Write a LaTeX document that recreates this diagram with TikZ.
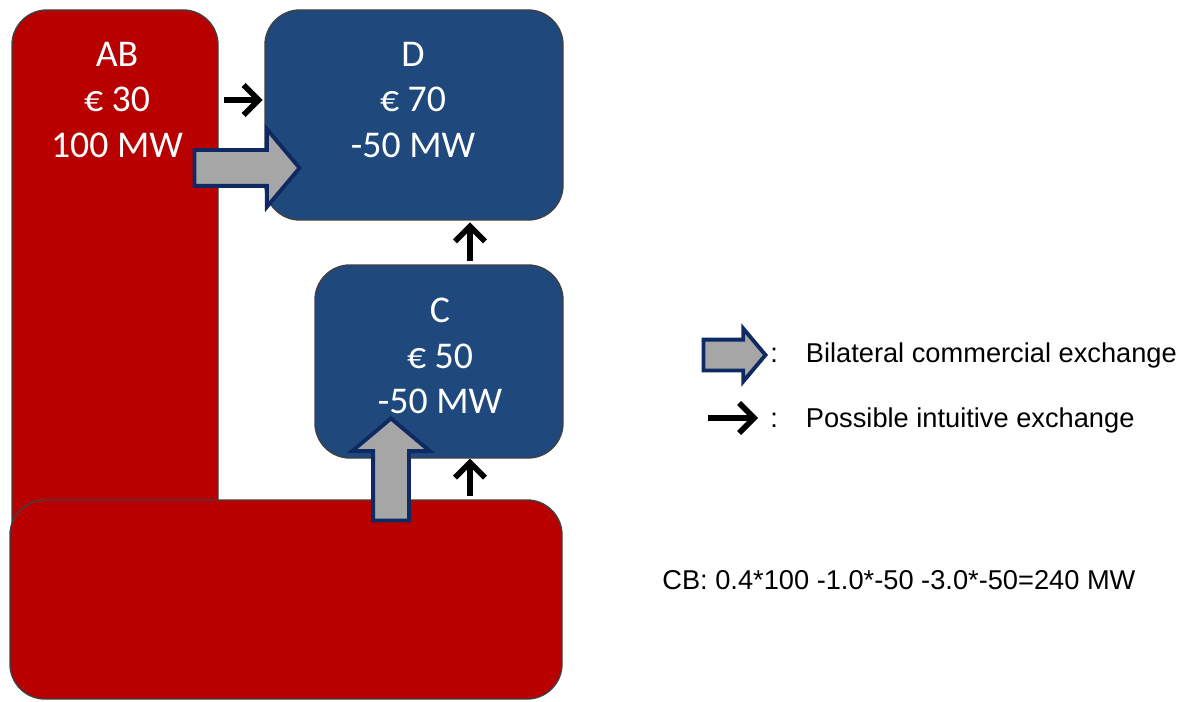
\documentclass[tikz,border=0pt]{standalone}
\usepackage{fontspec}
\setmainfont{Liberation Sans}
\newfontfamily\boxfont{Carlito}
\usepackage{tikz}
\usetikzlibrary{shapes.arrows, arrows.meta, calc}
\definecolor{zonered}{HTML}{B80000}
\definecolor{zoneblue}{HTML}{1F497D}
\definecolor{edge}{HTML}{404040}
\definecolor{navy}{HTML}{0F2A62}
\definecolor{shaftgrey}{HTML}{A6A6A6}

\begin{document}
\begin{tikzpicture}[
  redbox/.style={rectangle, rounded corners=0.7cm, draw=edge, line width=0.8pt,
                 fill=zonered, inner sep=0pt},
  bluebox/.style={redbox, fill=zoneblue},
  lbl/.style={font=\boxfont\fontsize{21.5}{26}\selectfont, text=white, align=center},
  arr/.style={-{Straight Barb[length=3mm, width=6mm, line width=3.2pt]}, line width=3.2pt},
  bigarr/.style={single arrow, single arrow head extend=0.42cm,
                 single arrow tip angle=100, draw=navy, line width=2.2pt,
                 fill=shaftgrey, inner sep=0pt, text height=0.32cm,
                 text depth=0.32cm, minimum height=2.1cm},
  legtxt/.style={font=\fontsize{15.5}{18}\selectfont, anchor=west, inner sep=0pt},
]
\useasboundingbox (0,0) rectangle (23.76,14.02);

\node[redbox,  minimum width=4.12cm, minimum height=11.8cm] (ab) at (2.30,7.92) {};
\node[bluebox, minimum width=5.96cm, minimum height=4.2cm]  (d)  at (8.28,11.72) {};
\node[bluebox, minimum width=4.96cm, minimum height=3.86cm] (c)  at (8.78,6.79) {};
\node[redbox,  minimum width=11.04cm, minimum height=3.98cm] (bot) at (5.72,2.03) {};

\node[lbl] (abtxt) at (2.34,12.02) {AB\\€ 30\\100 MW};
\node[lbl] (dtxt)  at (8.26,12.02) {D\\€ 70\\-50 MW};
\node[lbl] (ctxt)  at (8.80,6.90)  {C\\€ 50\\-50 MW};

\coordinate (vx) at (9.40,0);
\draw[arr, shorten <=3pt, shorten >=1pt] (abtxt -| ab.east) -- (abtxt -| d.west);
\draw[arr, shorten <=2pt, shorten >=1pt] (c.north -| vx) -- (d.south -| vx);
\draw[arr, shorten <=2pt] (bot.north -| vx) -- (c.south -| vx);

\node[bigarr] (ex1) at (4.79,10.66) {};
\node[bigarr, minimum height=2.04cm, rotate=90] (ex2) at (7.82,4.48) {};

\node[bigarr, minimum height=1.24cm, text height=0.27cm, text depth=0.27cm,
      single arrow head extend=0.22cm] (legbig) at (14.56,6.92) {};
\node[legtxt] (legbigtxt) at (15.40,6.92) {:\hspace{0.56cm}Bilateral commercial exchange};
\coordinate (l2a) at (14.16,5.66);
\coordinate (l2b) at (15.16,5.66);
\draw[arr] (l2a) -- (l2b);
\node[legtxt] (legsmalltxt) at (15.40,5.62) {:\hspace{0.56cm}Possible intuitive exchange};

\node[legtxt] (cb) at (13.24,2.42) {CB: 0.4*100 -1.0*-50 -3.0*-50=240 MW};
\end{tikzpicture}
\end{document}
